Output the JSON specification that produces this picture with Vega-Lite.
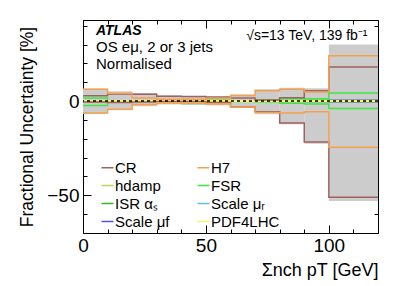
{
  "$schema": "https://vega.github.io/schema/vega-lite/v6.json",
  "width": 295,
  "height": 213,
  "autosize": {"type": "none"},
  "padding": {"left": 83, "top": 20, "right": 21, "bottom": 53},
  "background": "white",
  "title": {
    "text": "ATLAS",
    "subtitle": ["OS eμ, 2 or 3 jets", "Normalised"],
    "anchor": "start",
    "frame": "group",
    "orient": "top",
    "offset": 0,
    "dx": 13,
    "dy": 55,
    "font": "Liberation Sans",
    "fontSize": 14,
    "fontStyle": "italic",
    "fontWeight": "bold",
    "color": "black",
    "subtitleFont": "Liberation Sans",
    "subtitleFontSize": 15,
    "subtitleFontStyle": "normal",
    "subtitleColor": "black",
    "subtitleLineHeight": 17,
    "subtitlePadding": 2
  },
  "datasets": {
    "band": [
      {"lo": 0, "hi": 10, "up": 6.6, "dn": -6.8},
      {"lo": 10, "hi": 20, "up": 5.2, "dn": -4.8},
      {"lo": 20, "hi": 30, "up": 4.3, "dn": -2.8},
      {"lo": 30, "hi": 40, "up": 3.0, "dn": -1.8},
      {"lo": 40, "hi": 50, "up": 2.6, "dn": -2.0},
      {"lo": 50, "hi": 60, "up": 2.1, "dn": -2.3},
      {"lo": 60, "hi": 70, "up": 3.5, "dn": -3.7},
      {"lo": 70, "hi": 80, "up": 6.3, "dn": -7.0},
      {"lo": 80, "hi": 90, "up": 7.0, "dn": -12.3},
      {"lo": 90, "hi": 100, "up": 6.8, "dn": -22.6},
      {"lo": 100, "hi": 120, "up": 30, "dn": -53}
    ],
    "sys": [
      {"s": "hdamp", "x": 0, "up": 0.2, "dn": -0.2},
      {"s": "hdamp", "x": 10, "up": 0.1, "dn": -0.1},
      {"s": "hdamp", "x": 20, "up": 0.1, "dn": -0.1},
      {"s": "hdamp", "x": 30, "up": 0.1, "dn": -0.1},
      {"s": "hdamp", "x": 40, "up": 0.1, "dn": -0.1},
      {"s": "hdamp", "x": 50, "up": 0.1, "dn": -0.1},
      {"s": "hdamp", "x": 60, "up": 0.1, "dn": -0.1},
      {"s": "hdamp", "x": 70, "up": 0.2, "dn": -0.2},
      {"s": "hdamp", "x": 80, "up": 0.2, "dn": -0.2},
      {"s": "hdamp", "x": 90, "up": 0.3, "dn": -0.3},
      {"s": "hdamp", "x": 100, "up": 0.5, "dn": -0.5},
      {"s": "hdamp", "x": 120, "up": 0.5, "dn": -0.5},
      {"s": "ISR αₛ", "x": 0, "up": 0.2, "dn": -0.2},
      {"s": "ISR αₛ", "x": 10, "up": 0.1, "dn": -0.1},
      {"s": "ISR αₛ", "x": 20, "up": 0.1, "dn": -0.1},
      {"s": "ISR αₛ", "x": 30, "up": 0.1, "dn": -0.1},
      {"s": "ISR αₛ", "x": 40, "up": 0.1, "dn": -0.1},
      {"s": "ISR αₛ", "x": 50, "up": 0.1, "dn": -0.1},
      {"s": "ISR αₛ", "x": 60, "up": 0.1, "dn": -0.1},
      {"s": "ISR αₛ", "x": 70, "up": 0.2, "dn": -0.2},
      {"s": "ISR αₛ", "x": 80, "up": 0.2, "dn": -0.2},
      {"s": "ISR αₛ", "x": 90, "up": 0.3, "dn": -0.3},
      {"s": "ISR αₛ", "x": 100, "up": 0.6, "dn": -0.6},
      {"s": "ISR αₛ", "x": 120, "up": 0.6, "dn": -0.6},
      {"s": "Scale μᵣ", "x": 0, "up": 0.2, "dn": -0.2},
      {"s": "Scale μᵣ", "x": 10, "up": 0.1, "dn": -0.1},
      {"s": "Scale μᵣ", "x": 20, "up": 0.1, "dn": -0.1},
      {"s": "Scale μᵣ", "x": 30, "up": 0.1, "dn": -0.1},
      {"s": "Scale μᵣ", "x": 40, "up": 0.1, "dn": -0.1},
      {"s": "Scale μᵣ", "x": 50, "up": 0.1, "dn": -0.1},
      {"s": "Scale μᵣ", "x": 60, "up": 0.1, "dn": -0.1},
      {"s": "Scale μᵣ", "x": 70, "up": 0.1, "dn": -0.1},
      {"s": "Scale μᵣ", "x": 80, "up": 0.2, "dn": -0.2},
      {"s": "Scale μᵣ", "x": 90, "up": 0.2, "dn": -0.2},
      {"s": "Scale μᵣ", "x": 100, "up": 0.4, "dn": -0.4},
      {"s": "Scale μᵣ", "x": 120, "up": 0.4, "dn": -0.4},
      {"s": "Scale μf", "x": 0, "up": 0.2, "dn": -0.2},
      {"s": "Scale μf", "x": 10, "up": 0.1, "dn": -0.1},
      {"s": "Scale μf", "x": 20, "up": 0.1, "dn": -0.1},
      {"s": "Scale μf", "x": 30, "up": 0.1, "dn": -0.1},
      {"s": "Scale μf", "x": 40, "up": 0.1, "dn": -0.1},
      {"s": "Scale μf", "x": 50, "up": 0.1, "dn": -0.1},
      {"s": "Scale μf", "x": 60, "up": 0.1, "dn": -0.1},
      {"s": "Scale μf", "x": 70, "up": 0.1, "dn": -0.1},
      {"s": "Scale μf", "x": 80, "up": 0.2, "dn": -0.2},
      {"s": "Scale μf", "x": 90, "up": 0.2, "dn": -0.2},
      {"s": "Scale μf", "x": 100, "up": 0.4, "dn": -0.4},
      {"s": "Scale μf", "x": 120, "up": 0.4, "dn": -0.4},
      {"s": "FSR", "x": 0, "up": 1.6, "dn": -2.3},
      {"s": "FSR", "x": 10, "up": 0.2, "dn": -0.2},
      {"s": "FSR", "x": 20, "up": 0.2, "dn": -0.2},
      {"s": "FSR", "x": 30, "up": 0.2, "dn": -0.2},
      {"s": "FSR", "x": 40, "up": 0.2, "dn": -1.3},
      {"s": "FSR", "x": 50, "up": 0.4, "dn": -0.6},
      {"s": "FSR", "x": 60, "up": 0.2, "dn": -0.2},
      {"s": "FSR", "x": 70, "up": 0.5, "dn": -0.5},
      {"s": "FSR", "x": 80, "up": 1.2, "dn": -1.2},
      {"s": "FSR", "x": 90, "up": 1.2, "dn": -1.5},
      {"s": "FSR", "x": 100, "up": 4.3, "dn": -4.0},
      {"s": "FSR", "x": 120, "up": 4.3, "dn": -4.0},
      {"s": "PDF4LHC", "x": 0, "up": 0.2, "dn": -0.2},
      {"s": "PDF4LHC", "x": 10, "up": 0.2, "dn": -0.2},
      {"s": "PDF4LHC", "x": 20, "up": 0.2, "dn": -0.2},
      {"s": "PDF4LHC", "x": 30, "up": 0.2, "dn": -0.2},
      {"s": "PDF4LHC", "x": 40, "up": 0.2, "dn": -0.2},
      {"s": "PDF4LHC", "x": 50, "up": 0.2, "dn": -0.2},
      {"s": "PDF4LHC", "x": 60, "up": 0.2, "dn": -0.2},
      {"s": "PDF4LHC", "x": 70, "up": 0.2, "dn": -0.2},
      {"s": "PDF4LHC", "x": 80, "up": 0.2, "dn": -0.2},
      {"s": "PDF4LHC", "x": 90, "up": 0.2, "dn": -0.2},
      {"s": "PDF4LHC", "x": 100, "up": 0.3, "dn": -0.3},
      {"s": "PDF4LHC", "x": 120, "up": 0.3, "dn": -0.3},
      {"s": "CR", "x": 0, "up": 2.8, "dn": -0.5},
      {"s": "CR", "x": 10, "up": 3.8, "dn": -0.8},
      {"s": "CR", "x": 20, "up": 3.6, "dn": -0.5},
      {"s": "CR", "x": 30, "up": 2.6, "dn": -0.3},
      {"s": "CR", "x": 40, "up": 2.4, "dn": -0.3},
      {"s": "CR", "x": 50, "up": 2.1, "dn": -0.8},
      {"s": "CR", "x": 60, "up": 1.6, "dn": -3.0},
      {"s": "CR", "x": 70, "up": 0.5, "dn": -5.7},
      {"s": "CR", "x": 80, "up": 1.8, "dn": -11.6},
      {"s": "CR", "x": 90, "up": 5.5, "dn": -21.7},
      {"s": "CR", "x": 100, "up": 18, "dn": -51},
      {"s": "CR", "x": 120, "up": 18, "dn": -51},
      {"s": "H7", "x": 0, "up": 6.2, "dn": -6.3},
      {"s": "H7", "x": 10, "up": 4.2, "dn": -4.4},
      {"s": "H7", "x": 20, "up": 1.6, "dn": -1.8},
      {"s": "H7", "x": 30, "up": 0.9, "dn": -1.0},
      {"s": "H7", "x": 40, "up": 1.0, "dn": -1.2},
      {"s": "H7", "x": 50, "up": 1.5, "dn": -1.6},
      {"s": "H7", "x": 60, "up": 3.0, "dn": -3.2},
      {"s": "H7", "x": 70, "up": 5.5, "dn": -6.1},
      {"s": "H7", "x": 80, "up": 6.2, "dn": -6.3},
      {"s": "H7", "x": 90, "up": 4.8, "dn": -5.7},
      {"s": "H7", "x": 100, "up": 24, "dn": -24.5},
      {"s": "H7", "x": 120, "up": 24, "dn": -24.5}
    ],
    "zero": [{"y": 0}]
  },
  "layer": [
    {
      "data": {"name": "band"},
      "mark": {"type": "rect", "color": "#cccccc"},
      "encoding": {
        "x": {
          "field": "lo", "type": "quantitative",
          "scale": {"domain": [0, 120], "nice": false, "zero": false},
          "axis": {
            "orient": "bottom",
            "values": [0, 10, 20, 30, 40, 50, 60, 70, 80, 90, 100, 110, 120],
            "labelExpr": "datum.value % 50 === 0 ? datum.label : ''",
            "tickSize": {"condition": {"test": "datum.value % 50 === 0", "value": -8}, "value": -4},
            "labelFontSize": 19,
            "labelPadding": 11,
            "labelFlush": false,
            "labelOverlap": false,
            "title": "Σnch pT [GeV]",
            "titleFontSize": 18,
            "titleAnchor": "end",
            "titlePadding": 2
          }
        },
        "x2": {"field": "hi"},
        "y": {
          "field": "dn", "type": "quantitative",
          "scale": {"domain": [-70, 43], "nice": false, "zero": false},
          "axis": {
            "orient": "left",
            "values": [-70, -60, -50, -40, -30, -20, -10, 0, 10, 20, 30, 40],
            "labelExpr": "datum.value % 50 === 0 ? datum.label : ''",
            "tickSize": {"condition": {"test": "datum.value % 50 === 0", "value": -8}, "value": -4},
            "labelFontSize": 19,
            "labelPadding": 12,
            "labelOverlap": false,
            "title": "Fractional Uncertainty [%]",
            "titleFontSize": 17.5,
            "titlePadding": 10
          }
        },
        "y2": {"field": "up"}
      }
    },
    {
      "data": {"name": "sys"},
      "transform": [{"fold": ["up", "dn"], "as": ["side", "v"]}],
      "mark": {"type": "line", "interpolate": "step-after", "strokeWidth": 1.5},
      "encoding": {
        "x": {
          "field": "x", "type": "quantitative",
          "axis": {
            "orient": "top",
            "values": [0, 10, 20, 30, 40, 50, 60, 70, 80, 90, 100, 110, 120],
            "labels": false,
            "tickSize": {"condition": {"test": "datum.value % 50 === 0", "value": -8}, "value": -4},
            "title": "√s=13 TeV, 139 fb⁻¹",
            "titleFontSize": 14,
            "titleX": 284,
            "titleY": 19,
            "titleAlign": "right",
            "titleBaseline": "alphabetic"
          }
        },
        "y": {
          "field": "v", "type": "quantitative",
          "axis": {
            "orient": "right",
            "values": [-70, -60, -50, -40, -30, -20, -10, 0, 10, 20, 30, 40],
            "labels": false,
            "tickSize": {"condition": {"test": "datum.value % 50 === 0", "value": -8}, "value": -4},
            "title": null
          }
        },
        "color": {
          "field": "s", "type": "nominal",
          "scale": {
            "domain": ["CR", "H7", "hdamp", "FSR", "ISR αₛ", "Scale μᵣ", "Scale μf", "PDF4LHC"],
            "range": ["#a0625f", "#f7a04b", "#b5d85a", "#3ee83e", "#2db82d", "#6bbbe8", "#5050ff", "#f5f570"]
          },
          "legend": {
            "orient": "none",
            "direction": "horizontal",
            "legendX": 17,
            "legendY": 140,
            "columns": 2,
            "title": null,
            "symbolType": "stroke",
            "symbolSize": 144,
            "symbolStrokeWidth": 1.5,
            "labelFontSize": 15,
            "labelFont": "Liberation Sans",
            "labelColor": "black",
            "rowPadding": 2,
            "columnPadding": 24,
            "labelOffset": 0,
            "padding": 0
          }
        },
        "detail": {"field": "side"}
      }
    },
    {
      "data": {"name": "zero"},
      "mark": {"type": "rule", "color": "black", "strokeDash": [3, 3], "strokeWidth": 1.5},
      "encoding": {"y": {"field": "y", "type": "quantitative", "axis": null}}
    }
  ],
  "resolve": {"axis": {"x": "independent", "y": "independent"}},
  "config": {
    "view": {"stroke": "black", "strokeWidth": 1},
    "font": "Liberation Sans",
    "axis": {
      "grid": false,
      "domain": false,
      "tickColor": "black",
      "tickWidth": 1,
      "labelColor": "black",
      "titleColor": "black",
      "labelFont": "Liberation Sans",
      "titleFont": "Liberation Sans",
      "titleFontWeight": "normal"
    }
  }
}
